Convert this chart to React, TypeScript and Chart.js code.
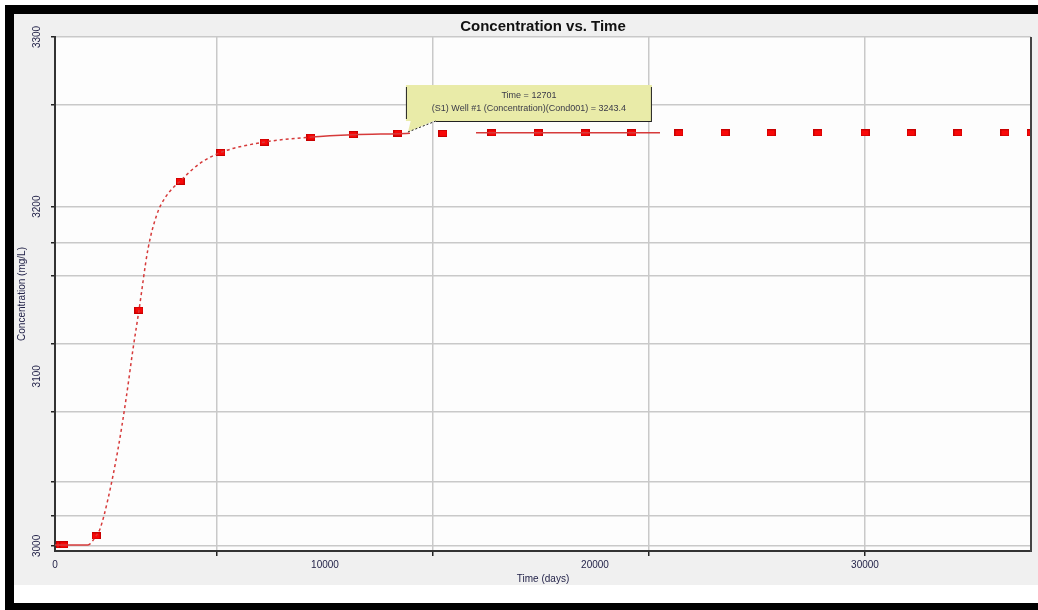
import React, { useEffect, useRef } from 'react';
import { Chart, registerables } from 'chart.js';

Chart.register(...registerables);

// ---- data ----
const chartTitle = 'Concentration vs. Time';
const xAxisTitle = 'Time (days)';
const yAxisTitle = 'Concentration (mg/L)';

// simulated curve
const curveTimes = [0, 1222, 1519, 1667, 1963, 2333, 2630, 2889, 3111, 3444, 3778, 4111, 4630, 5370, 6148, 7741, 9481, 11037, 12704, 13148, 14000, 15593, 22407];
const curveConc = [3000.6, 3000.6, 3005.9, 3010, 3027.7, 3057, 3086.5, 3116, 3139, 3175, 3195.6, 3206, 3215, 3225.5, 3232, 3238, 3241, 3242.4, 3243, 3243.2, null, 3243.5, 3243.5];

// observed markers
const markerTimes = [200, 330, 1519, 3111, 4630, 6148, 7741, 9481, 11037, 12701, 14370, 16185, 17889, 19630, 21370, 23111, 24815, 26519, 28259, 30000, 31704, 33444, 35185, 36148];
const markerConc = [3000.6, 3000.6, 3005.9, 3139, 3215, 3232, 3238, 3241, 3242.4, 3243.4, 3243.2, 3243.5, 3243.5, 3243.5, 3243.5, 3243.5, 3243.5, 3243.5, 3243.5, 3243.5, 3243.5, 3243.5, 3243.5, 3243.5];

// axes
const xMin = 0;
const xMax = 36148;
const yMin = 2997;
const yMax = 3300;
const xLabelValues = [0, 10000, 20000, 30000];
const xGridValues = [6000, 14000, 22000, 30000];
const yLabelValues = [3000, 3100, 3200, 3300];
const yGridValues = [3000, 3018, 3038, 3079, 3119, 3159, 3179, 3200, 3260, 3300];

// tooltip callout
const tooltipIndex = 9;
const tooltipSeries = '(S1) Well #1 (Concentration)(Cond001)';

const FONT = '"Liberation Sans", Arial, sans-serif';
const TEXT = '#24244a';

function makeMarker(): HTMLCanvasElement {
  const c = document.createElement('canvas');
  c.width = 9;
  c.height = 7;
  const g = c.getContext('2d')!;
  g.fillStyle = '#c80000';
  g.fillRect(0, 0, 9, 7);
  g.fillStyle = '#f80808';
  g.fillRect(1, 1, 7, 5);
  return c;
}

export default function App() {
  const ref = useRef<HTMLCanvasElement | null>(null);

  useEffect(() => {
    document.body.style.margin = '0';
    const canvas = ref.current;
    if (!canvas) return;

    const marker = makeMarker();
    const xTicks = Array.from(new Set([...xLabelValues, ...xGridValues])).sort((a, b) => a - b);
    const yTicks = Array.from(new Set([...yLabelValues, ...yGridValues])).sort((a, b) => a - b);

    const framePlugin = {
      id: 'frame',
      beforeDraw(chart: any) {
        const { ctx, chartArea: a } = chart;
        ctx.save();
        ctx.fillStyle = '#fdfdfd';
        ctx.fillRect(a.left, a.top, a.right - a.left, a.bottom - a.top);
        ctx.restore();
      },
      afterDraw(chart: any) {
        const { ctx, chartArea: a, scales } = chart;
        ctx.save();
        // right border
        ctx.strokeStyle = '#444';
        ctx.lineWidth = 2;
        ctx.beginPath();
        ctx.moveTo(a.right, a.top);
        ctx.lineTo(a.right, a.bottom + 1);
        ctx.stroke();
        // rotated y tick labels
        ctx.fillStyle = TEXT;
        ctx.font = `10px ${FONT}`;
        ctx.textAlign = 'center';
        ctx.textBaseline = 'middle';
        for (const v of yLabelValues) {
          const py = scales.y.getPixelForValue(v);
          ctx.save();
          ctx.translate(a.left - 18, py);
          ctx.rotate(-Math.PI / 2);
          ctx.fillText(String(v), 0, 0);
          ctx.restore();
        }
        // tooltip callout
        const px = scales.x.getPixelForValue(markerTimes[tooltipIndex]);
        const py = scales.y.getPixelForValue(markerConc[tooltipIndex]);
        const bx = px + 8;
        const by = py - 48;
        const bw = 246;
        const bh = 36;
        ctx.fillStyle = '#e9eba8';
        ctx.fillRect(bx, by, bw, bh);
        ctx.beginPath();
        ctx.moveTo(px + 13, by + bh - 1);
        ctx.lineTo(px + 10, py - 1);
        ctx.lineTo(px + 38, by + bh - 1);
        ctx.closePath();
        ctx.fill();
        ctx.strokeStyle = '#222';
        ctx.lineWidth = 1;
        ctx.beginPath();
        ctx.moveTo(bx + 0.5, by + 2);
        ctx.lineTo(bx + 0.5, by + bh - 2);
        ctx.moveTo(bx + bw - 0.5, by + 2);
        ctx.lineTo(bx + bw - 0.5, by + bh);
        ctx.moveTo(px + 38, by + bh + 0.5);
        ctx.lineTo(bx + bw, by + bh + 0.5);
        ctx.stroke();
        ctx.setLineDash([2, 2]);
        ctx.beginPath();
        ctx.moveTo(px + 10, py - 1);
        ctx.lineTo(px + 38, by + bh);
        ctx.stroke();
        ctx.setLineDash([]);
        ctx.fillStyle = '#3a3a48';
        ctx.font = `9px ${FONT}`;
        ctx.textAlign = 'center';
        ctx.textBaseline = 'middle';
        ctx.fillText(`Time = ${markerTimes[tooltipIndex]}`, bx + bw / 2, by + 11);
        ctx.fillText(`${tooltipSeries} = ${markerConc[tooltipIndex].toFixed(1)}`, bx + bw / 2, by + 24);
        ctx.restore();
      },
    };

    const chart = new Chart(canvas, {
      type: 'scatter',
      data: {
        datasets: [
          {
            label: 'Simulated',
            data: curveTimes.map((t, i) => ({ x: t, y: curveConc[i] as any })),
            showLine: true,
            borderColor: '#d63a3a',
            borderWidth: 1.5,
            pointRadius: 0,
            pointHoverRadius: 0,
            cubicInterpolationMode: 'monotone',
            spanGaps: false,
            segment: {
              borderDash: (c: any) => (Math.abs(c.p1.parsed.y - c.p0.parsed.y) > 2 ? [3, 3] : undefined),
            },
            clip: 0,
          } as any,
          {
            label: 'Observed',
            data: markerTimes.map((t, i) => ({ x: t, y: markerConc[i] })),
            showLine: false,
            pointStyle: marker as any,
            pointRadius: 4,
            clip: 0,
          } as any,
        ],
      },
      options: {
        animation: false,
        responsive: false,
        events: [],
        layout: { padding: { top: 0, right: 7, bottom: 0, left: 0 } },
        plugins: {
          legend: { display: false },
          tooltip: { enabled: false },
          title: {
            display: true,
            text: chartTitle,
            fullSize: false,
            color: '#111',
            font: { family: FONT, size: 15, weight: 'bold' },
            padding: { top: 4, bottom: 1 },
          },
        },
        scales: {
          x: {
            type: 'linear',
            min: xMin,
            max: xMax,
            afterBuildTicks: (s: any) => {
              s.ticks = xTicks.map((v) => ({ value: v }));
            },
            afterFit: (s: any) => {
              s.height = 34;
            },
            ticks: {
              autoSkip: false,
              maxRotation: 0,
              padding: 3,
              color: TEXT,
              font: { family: FONT, size: 10 },
              callback: (v: any) => (xLabelValues.includes(Number(v)) ? String(v) : ''),
            },
            grid: {
              color: (c: any) => (xGridValues.includes(c.tick?.value) ? '#c9c9c9' : 'rgba(0,0,0,0)'),
              tickColor: (c: any) => (xGridValues.includes(c.tick?.value) ? '#222' : 'rgba(0,0,0,0)'),
              tickLength: 5,
              lineWidth: 1.5,
            },
            border: { display: true, color: '#333', width: 2 },
            title: {
              display: true,
              text: xAxisTitle,
              color: TEXT,
              font: { family: FONT, size: 10 },
              padding: { top: 0, bottom: 0 },
            },
          },
          y: {
            type: 'linear',
            min: yMin,
            max: yMax,
            afterBuildTicks: (s: any) => {
              s.ticks = yTicks.map((v) => ({ value: v }));
            },
            afterFit: (s: any) => {
              s.width = 41;
            },
            ticks: {
              autoSkip: false,
              color: TEXT,
              font: { family: FONT, size: 10 },
              callback: () => '',
            },
            grid: {
              color: (c: any) => (yGridValues.includes(c.tick?.value) ? '#c9c9c9' : 'rgba(0,0,0,0)'),
              tickColor: (c: any) => (yGridValues.includes(c.tick?.value) ? '#222' : 'rgba(0,0,0,0)'),
              tickLength: 4,
              lineWidth: 1.5,
            },
            border: { display: true, color: '#333', width: 2 },
            title: {
              display: true,
              text: yAxisTitle,
              color: TEXT,
              font: { family: FONT, size: 10 },
              padding: { top: 2, bottom: 0 },
            },
          },
        },
      } as any,
      plugins: [framePlugin],
    });

    return () => chart.destroy();
  }, []);

  return (
    <div style={{ position: 'relative', width: 1038, height: 610, background: '#fff', overflow: 'hidden' }}>
      <div style={{ position: 'absolute', left: 5, top: 5, width: 1033, height: 9, background: '#000' }} />
      <div style={{ position: 'absolute', left: 5, top: 5, width: 9, height: 605, background: '#000' }} />
      <div style={{ position: 'absolute', left: 5, top: 603, width: 1033, height: 7, background: '#000' }} />
      <div style={{ position: 'absolute', left: 14, top: 14, width: 1024, height: 571, background: '#f0f0f0' }}>
        <canvas ref={ref} width={1024} height={571} style={{ display: 'block', width: 1024, height: 571 }} />
      </div>
    </div>
  );
}
